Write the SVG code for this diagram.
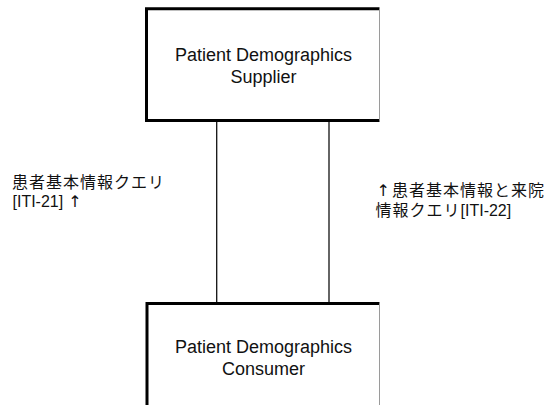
<svg xmlns="http://www.w3.org/2000/svg" width="554" height="405" viewBox="0 0 554 405">
  <style>
    .edge { stroke: #000; stroke-width: 3; fill: none; }
    .side { stroke: #9a9a9a; stroke-width: 1; fill: none; }
    .conn { stroke: #111; stroke-width: 1.3; fill: none; }
    .name { font-family: "Liberation Sans", Arial, sans-serif; font-size: 18px; fill: #111; text-anchor: middle; }
    .lbl { font-family: "Liberation Sans", "Noto Sans CJK JP", sans-serif; font-size: 16px; fill: #111; }
    .cjk { font-family: "Noto Sans CJK JP", sans-serif; font-size: 16px; letter-spacing: 1px; fill: #111; }
    .lat { font-family: "Liberation Sans", Arial, sans-serif; font-size: 16px; letter-spacing: 0; }
    .arrow { font-family: "DejaVu Sans", sans-serif; font-size: 16px; letter-spacing: 0; fill: #111; }
  </style>
  <rect width="554" height="405" fill="#fff"/>

  <g id="connectors">
    <line class="conn" x1="216.7" y1="121" x2="216.7" y2="303"/>
    <line class="conn" x1="329" y1="121" x2="329" y2="303"/>
  </g>

  <g id="supplier">
    <path class="edge" d="M379.5 8.7 H146.5 V120.5 H379.5"/>
    <line class="side" x1="379.5" y1="8.7" x2="379.5" y2="120.5"/>
    <text class="name" x="263.5" y="61">Patient Demographics</text>
    <text class="name" x="263.5" y="83">Supplier</text>
  </g>

  <g id="consumer">
    <path class="edge" d="M379.5 303.5 H147 V405"/>
    <line class="side" x1="379.5" y1="303.5" x2="379.5" y2="405"/>
    <text class="name" x="263.5" y="352.7">Patient Demographics</text>
    <text class="name" x="263.5" y="375">Consumer</text>
  </g>

  <!-- two-line labels, each kept as one text element -->
  <g id="label-iti21">
    <text class="lbl"><tspan class="cjk" x="12" y="187.5">患者基本情報クエリ</tspan><tspan class="lat" x="12.5" y="207.3">[ITI-21]</tspan><tspan class="arrow" dx="5">↑</tspan></text>
  </g>

  <g id="label-iti22">
    <text class="lbl"><tspan class="arrow" x="376.5" y="195.5">↑</tspan><tspan class="cjk" x="392" y="195.5">患者基本情報と来院</tspan><tspan class="cjk" x="375.5" y="215.5">情報クエリ</tspan><tspan class="lat">[ITI-22]</tspan></text>
  </g>
</svg>
